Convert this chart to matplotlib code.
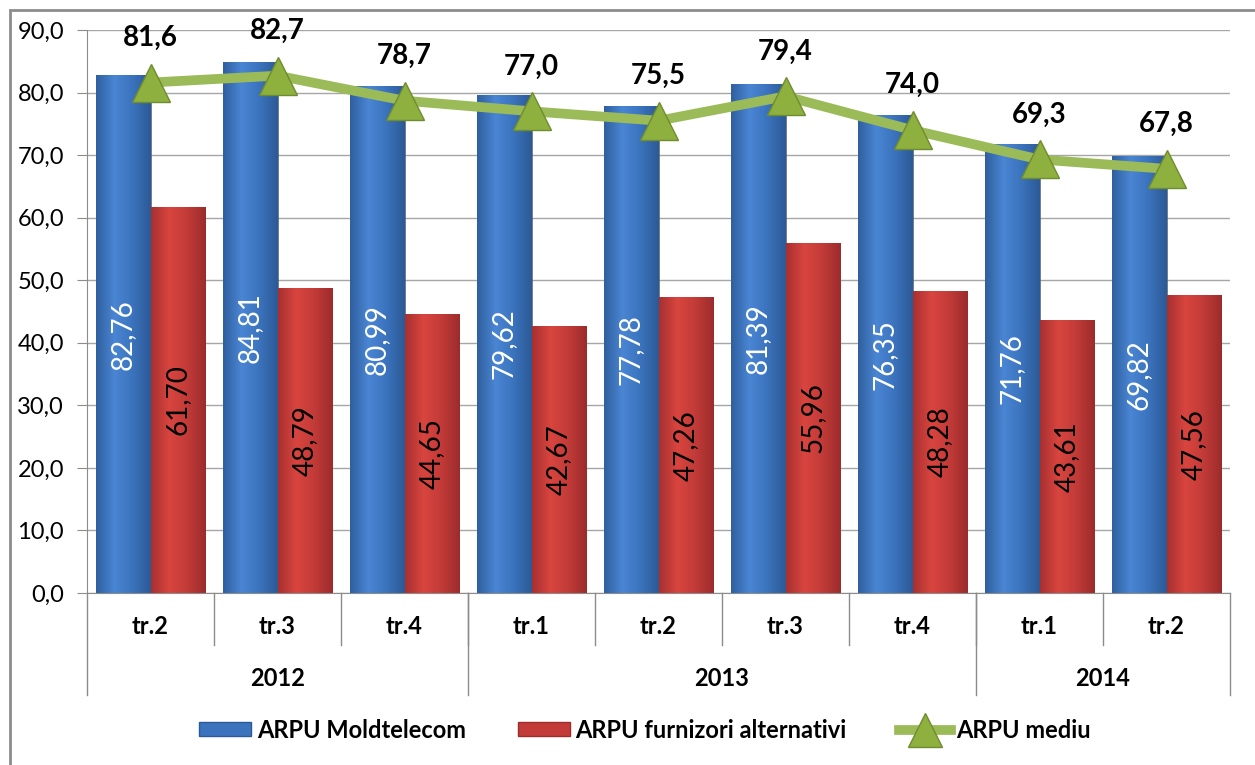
import numpy as np
import matplotlib
matplotlib.use("Agg")
import matplotlib.pyplot as plt
from matplotlib.patches import Rectangle
from matplotlib.lines import Line2D
from matplotlib.colors import LinearSegmentedColormap

plt.rcParams['font.family'] = ['Lato', 'DejaVu Sans']

# data
quarters = ['tr.2', 'tr.3', 'tr.4', 'tr.1', 'tr.2', 'tr.3', 'tr.4', 'tr.1', 'tr.2']
years = ['2012', '2013', '2014']
year_span = [3, 4, 2]
arpu_moldtelecom = [82.76, 84.81, 80.99, 79.62, 77.78, 81.39, 76.35, 71.76, 69.82]
arpu_alt = [61.70, 48.79, 44.65, 42.67, 47.26, 55.96, 48.28, 43.61, 47.56]
arpu_mediu = [81.6, 82.7, 78.7, 77.0, 75.5, 79.4, 74.0, 69.3, 67.8]

def fmt(v, nd):
    return f"{v:.{nd}f}".replace('.', ',')

fig = plt.figure(figsize=(12.55, 7.65), dpi=100)
# outer chart frame (runs off the right and bottom edge)
fig.patches.append(Rectangle((10 / 1255, -0.1), 1.2, 1 - 10 / 765 + 0.1,
                             transform=fig.transFigure, fill=False,
                             edgecolor='#8c8c8c', lw=2))

ax = fig.add_axes([87 / 1255, 1 - 593 / 765, (1230 - 87) / 1255, (593 - 30) / 765])

x = np.arange(len(quarters))
bw = 0.433

blue_cmap = LinearSegmentedColormap.from_list('b', ['#2f5f9e', '#4a86d4', '#3b73bd', '#2c5a96'])
red_cmap = LinearSegmentedColormap.from_list('r', ['#a83030', '#d9453f', '#c23b38', '#9c2c2c'])

def bars(xs, vals, face, cmap):
    bs = ax.bar(xs, vals, bw, color=face, edgecolor='#555555', lw=0.4, zorder=2)
    grad = np.linspace(0, 1, 64).reshape(1, -1)
    for b in bs:
        x0, w, h = b.get_x(), b.get_width(), b.get_height()
        im = ax.imshow(grad, cmap=cmap, aspect='auto', extent=[x0, x0 + w, 0, h],
                       zorder=2.1, interpolation='bicubic')
        im.set_clip_path(b)
    return bs

b1 = bars(x - bw / 2, arpu_moldtelecom, '#3b73bd', blue_cmap)
b2 = bars(x + bw / 2, arpu_alt, '#c23b38', red_cmap)

for xi, v in zip(x, arpu_moldtelecom):
    ax.text(xi - bw / 2, v / 2, fmt(v, 2), rotation=90, ha='center', va='center',
            color='white', fontsize=20, zorder=4)
for xi, v in zip(x, arpu_alt):
    ax.text(xi + bw / 2, v / 2, fmt(v, 2), rotation=90, ha='center', va='center',
            color='black', fontsize=20, zorder=4)

ax.plot(x, arpu_mediu, color='#9bbb59', lw=7, zorder=5, solid_capstyle='round')
ax.plot(x, arpu_mediu, ls='none', marker='^', ms=28, mfc='#8db03f',
        mec='#6f8c2e', mew=1, zorder=6)
for xi, v in zip(x, arpu_mediu):
    ax.annotate(fmt(v, 1), (xi, v), xytext=(0, 23), textcoords='offset points',
                ha='center', va='bottom', fontsize=20, fontweight='bold', zorder=7)

ax.set_xlim(-0.5, len(quarters) - 0.5)
ax.set_ylim(0, 90)
ax.set_yticks(np.arange(0, 91, 10))
ax.set_yticklabels([fmt(t, 1) for t in np.arange(0, 91, 10)], fontsize=17)
ax.yaxis.grid(True, color='#a6a6a6', lw=1, zorder=0)
ax.set_axisbelow(True)
ax.tick_params(axis='y', length=7.5, color='#8c8c8c', pad=9)
ax.set_xticks([])
for s in ['top', 'right']:
    ax.spines[s].set_visible(False)
ax.spines['left'].set_color('#8c8c8c')
ax.spines['bottom'].set_color('#8c8c8c')

# two-level category axis
ah = 593 - 30
q_drop = -52 / ah
y_drop = -102 / ah
tr = ax.get_xaxis_transform()
for i, q in enumerate(quarters):
    ax.text(i, -34 / ah, q, transform=tr, ha='center', va='center',
            fontsize=17, fontweight='bold')
for i in range(1, len(quarters)):
    ax.plot([i - 0.5, i - 0.5], [0, q_drop], transform=tr, color='#8c8c8c',
            lw=1, clip_on=False)
start = 0
edges = [-0.5]
for yr, n in zip(years, year_span):
    ax.text(start + (n - 1) / 2, -85 / ah, yr, transform=tr, ha='center',
            va='center', fontsize=17, fontweight='bold')
    start += n
    edges.append(start - 0.5)
for e in edges:
    ax.plot([e, e], [0, y_drop], transform=tr, color='#8c8c8c', lw=1, clip_on=False)

handles = [Rectangle((0, 0), 1, 1, facecolor='#3b73bd', edgecolor='#2c5a96'),
           Rectangle((0, 0), 1, 1, facecolor='#c23b38', edgecolor='#9c2c2c'),
           Line2D([], [], color='#9bbb59', lw=7, marker='^', ms=24,
                  mfc='#8db03f', mec='#6f8c2e')]
fig.legend(handles, ['ARPU Moldtelecom', 'ARPU furnizori alternativi', 'ARPU mediu'],
           loc='center', bbox_to_anchor=(645 / 1255, 1 - 730 / 765), ncol=3,
           frameon=False, prop={'size': 17, 'weight': 'bold'},
           handlelength=2.2, handleheight=0.55, columnspacing=2.2, handletextpad=0.25)

fig.savefig('out.png', dpi=100)
